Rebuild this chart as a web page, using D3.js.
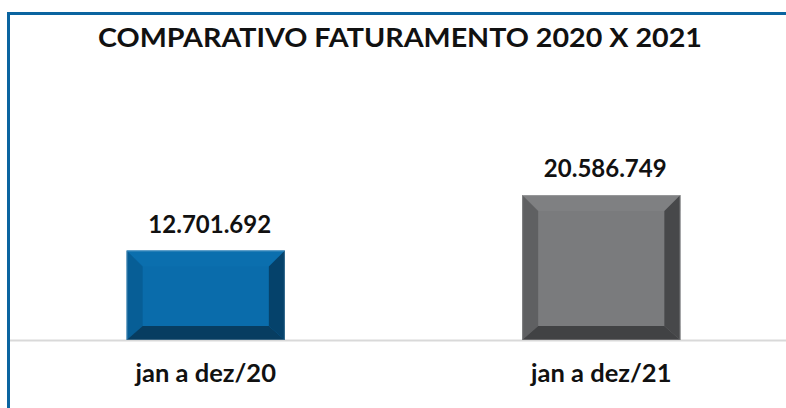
<!DOCTYPE html>
<html>
<head>
<meta charset="utf-8">
<script src="https://cdn.jsdelivr.net/npm/d3@7"></script>
<style>
  html, body { margin: 0; padding: 0; background: #fff; }
  svg { display: block; font-family: "Lato", "DejaVu Sans", sans-serif; font-weight: bold; }
</style>
</head>
<body>
<div id="vis-holder"></div>
<script>
// data
var categories = ["jan a dez/20", "jan a dez/21"];
var values = [12701692, 20586749];
var title = "COMPARATIVO FATURAMENTO 2020 X 2021";

// bevel shades per bar: face, top, left, right, bottom
var shades = [
  {face: "#0a6cab", top: "#0b6fae", left: "#075e96", right: "#05426b", bottom: "#073d61"},
  {face: "#7a7b7d", top: "#7f8082", left: "#5f6062", right: "#47484a", bottom: "#414244"}
];

var width = 786, height = 408;
var baseY = 340;

var svg = d3.select("#vis-holder")
  .append("svg")
    .attr("width", width)
    .attr("height", height);

// chart border (clipped at right and bottom)
svg.append("rect")
  .attr("x", 8.5)
  .attr("y", 13.5)
  .attr("width", 820)
  .attr("height", 430)
  .attr("fill", "none")
  .attr("stroke", "#0a64a0")
  .attr("stroke-width", 3);

svg.append("text")
  .attr("x", 400)
  .attr("y", 47)
  .attr("text-anchor", "middle")
  .attr("font-size", 27)
  .attr("fill", "#111")
  .attr("textLength", 604)
  .attr("lengthAdjust", "spacingAndGlyphs")
  .text(title);

var x = d3.scaleBand()
  .domain(categories)
  .range([8, 799])
  .paddingInner(0.6)
  .paddingOuter(0.3);

var y = d3.scaleLinear()
  .domain([0, 25000000])
  .range([baseY, 164]);

var fmt = d3.formatLocale({decimal: ",", thousands: ".", grouping: [3], currency: ["R$", ""]}).format(",d");

// baseline
svg.append("line")
  .attr("x1", 10)
  .attr("x2", width)
  .attr("y1", baseY + 0.5)
  .attr("y2", baseY + 0.5)
  .attr("stroke", "#d9d9d9")
  .attr("stroke-width", 2);

var bw = 16, bb = 14; // bevel sizes
var bars = svg.selectAll(".bar")
  .data(categories.map((c, i) => ({cat: c, val: values[i], col: shades[i]})))
  .enter()
  .append("g")
  .attr("class", "bar");

bars.each(function(d) {
  var g = d3.select(this);
  var x0 = x(d.cat), x1 = x(d.cat) + x.bandwidth();
  var y0 = y(d.val), y1 = y(0);
  var pts = {
    top: [[x0, y0], [x1, y0], [x1 - bw, y0 + bw], [x0 + bw, y0 + bw]],
    left: [[x0, y0], [x0 + bw, y0 + bw], [x0 + bw, y1 - bb], [x0, y1]],
    right: [[x1, y0], [x1, y1], [x1 - bw, y1 - bb], [x1 - bw, y0 + bw]],
    bottom: [[x0, y1], [x0 + bw, y1 - bb], [x1 - bw, y1 - bb], [x1, y1]]
  };
  g.append("rect")
    .attr("x", x0).attr("y", y0)
    .attr("width", x1 - x0).attr("height", y1 - y0)
    .attr("fill", d.col.face);
  ["top", "left", "right", "bottom"].forEach(k => {
    g.append("polygon")
      .attr("points", pts[k].map(p => p.join(",")).join(" "))
      .attr("fill", d.col[k]);
  });
  g.append("rect")
    .attr("x", x0 + 0.5).attr("y", y0 + 0.5)
    .attr("width", x1 - x0 - 1).attr("height", y1 - y0 - 1)
    .attr("fill", "none")
    .attr("stroke", "#ffffff")
    .attr("stroke-opacity", 0.2);

  g.append("text")
    .attr("x", x0 + x.bandwidth() / 2 + 4)
    .attr("y", y0 - 18)
    .attr("text-anchor", "middle")
    .attr("font-size", 24)
    .attr("fill", "#111")
    .text(fmt(d.val));

  g.append("text")
    .attr("x", x0 + x.bandwidth() / 2)
    .attr("y", 382)
    .attr("text-anchor", "middle")
    .attr("font-size", 25.5)
    .attr("fill", "#111")
    .text(d.cat);
});
</script>
</body>
</html>
